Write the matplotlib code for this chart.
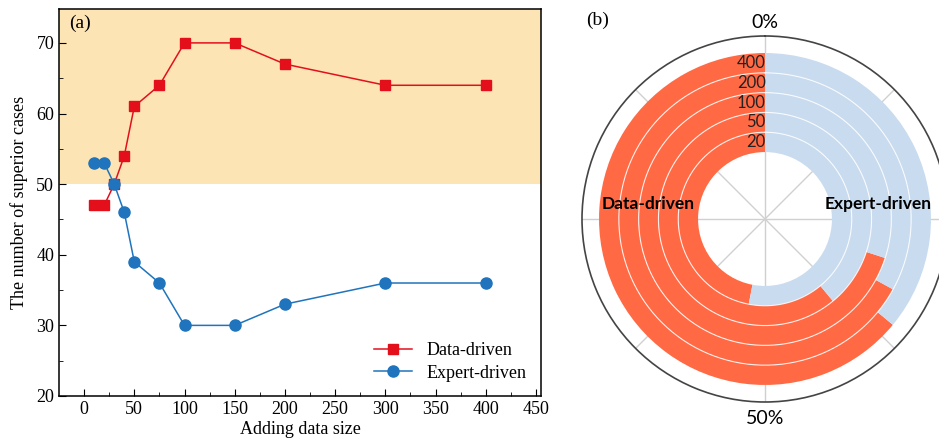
import matplotlib
matplotlib.use('Agg')
import matplotlib.pyplot as plt
import numpy as np

size = [10, 20, 30, 40, 50, 75, 100, 150, 200, 300, 400]
data_driven = [47, 47, 50, 54, 61, 64, 70, 70, 67, 64, 64]
expert_driven = [53, 53, 50, 46, 39, 36, 30, 30, 33, 36, 36]

ring_sizes = ['20', '50', '100', '200', '400']
ring_data = [47, 61, 70, 67, 64]   # % of cases where data-driven wins

red = '#e3101c'
blue = '#1f74bd'
shade = '#fde4b4'
orange = '#ff6a45'
lightblue = '#c9dbef'
sans = ['Lato', 'DejaVu Sans']

plt.rcParams['font.family'] = ['Liberation Serif', 'DejaVu Serif']

fig = plt.figure(figsize=(9.39, 4.46), dpi=100)

# ---- (a) line chart ----
ax = fig.add_axes([59/939, 1-396/446, (541-59)/939, (396-9)/446])
ax.axhspan(50, 80, color=shade, lw=0, zorder=0)
ax.plot(size, data_driven, color=red, marker='s', ms=7, lw=1.1, label='Data-driven')
ax.plot(size, expert_driven, color=blue, marker='o', ms=8, lw=1.1, label='Expert-driven')
ax.set_xlim(-25, 455)
ax.set_ylim(20, 74.8)
ax.set_xticks(np.arange(0, 451, 50))
ax.set_xticks(np.arange(25, 451, 50), minor=True)
ax.set_yticks(np.arange(20, 71, 10))
ax.set_yticks(np.arange(25, 71, 10), minor=True)
ax.tick_params(which='both', direction='in', labelsize=13)
ax.tick_params(which='major', length=5)
ax.tick_params(which='minor', length=3)
for s in ax.spines.values():
    s.set_linewidth(1.1)
ax.set_xlabel('Adding data size', fontsize=13, labelpad=2)
ax.set_ylabel('The number of superior cases', fontsize=13, labelpad=6)
ax.text(0.02, 0.985, '(a)', transform=ax.transAxes, fontsize=14, va='top')
ax.legend(loc='lower right', frameon=False, fontsize=13, handlelength=2.1,
          borderaxespad=0.4, labelspacing=0.3, bbox_to_anchor=(1.0, 0.0))

fig.text(598/939, 1-20/446, '(b)', fontsize=14, ha='center', va='center')

# ---- (b) radial bars ----
cx, cy, R = 765, 219, 183
pax = fig.add_axes([(cx-R)/939, (446-cy-R)/446, 2*R/939, 2*R/446], projection='polar')
pax.set_theta_zero_location('N')
pax.set_theta_direction(1)
r0 = 3.38
for i, v in enumerate(ring_data):
    w = v / 100 * 2*np.pi
    pax.bar(0, 1, width=w, bottom=r0+i, align='edge', color=orange, lw=0, zorder=2)
    pax.bar(w, 1, width=2*np.pi-w, bottom=r0+i, align='edge', color=lightblue, lw=0, zorder=2)
    pax.text(-0.006, r0+i+0.5, ring_sizes[i], ha='right', va='center', fontsize=12,
             family=sans, color='#222222', zorder=4)
th = np.linspace(0, 2*np.pi, 400)
for i in range(1, 5):
    pax.plot(th, np.full_like(th, r0+i), color='white', lw=0.8, alpha=0.85, zorder=3)
pax.set_ylim(0, 9.24)
pax.set_yticks([])
pax.set_xticks(np.arange(0, 2*np.pi, np.pi/4))
pax.set_xticklabels([])
pax.xaxis.grid(True, color='#d0d0d0', lw=1)
pax.spines['polar'].set_color('#444444')
pax.spines['polar'].set_linewidth(1.2)
pax.set_axisbelow(True)
pax.text(0.5, 1.036, '0%', transform=pax.transAxes, ha='center', va='center',
         fontsize=14, family=sans)
pax.text(0.5, -0.046, '50%', transform=pax.transAxes, ha='center', va='center',
         fontsize=14, family=sans)
pax.text(0.18, 0.54, 'Data-driven', transform=pax.transAxes, ha='center', va='center',
         fontsize=12.5, fontweight='bold', family=sans, zorder=5)
pax.text(0.81, 0.54, 'Expert-driven', transform=pax.transAxes, ha='center', va='center',
         fontsize=12.5, fontweight='bold', family=sans, zorder=5)

fig.savefig('out.png', dpi=100)
